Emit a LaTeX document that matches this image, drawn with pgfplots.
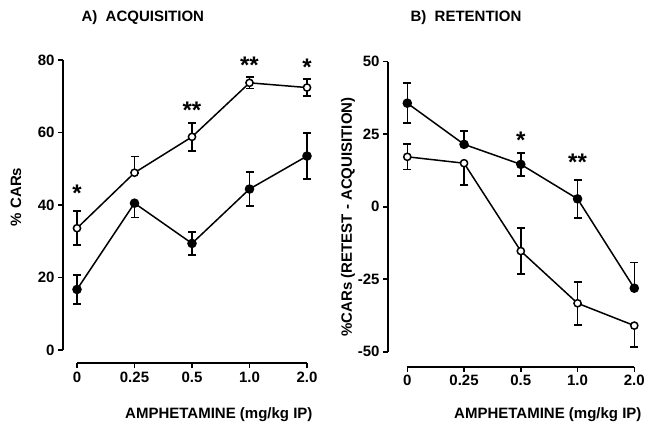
\documentclass[border=0pt]{standalone}
\usepackage{pgfplots}
\pgfplotsset{compat=1.18}
\usepackage{fontspec}
\setmainfont{Liberation Sans}

\pgfplotsset{
  panel/.style={
    scale only axis,
    axis lines=left,
    axis line style={-, line width=1.6pt},
    clip=false,
    tick align=outside,
    major tick length=5pt,
    tick style={line width=1.6pt, black},
    xtick={0,1,2,3,4},
    xticklabels={0,0.25,0.5,1.0,2.0},
    xmax=4,
    ticklabel style={font=\fontsize{15}{17}\selectfont\bfseries},
    label style={font=\fontsize{15}{18}\selectfont\bfseries},
    title style={font=\fontsize{15}{18}\selectfont\bfseries, anchor=west},
    /pgf/number format/assume math mode=true,
    xlabel={AMPHETAMINE (mg/kg IP)},
    xlabel style={anchor=east},
    ylabel style={anchor=center},
  },
  open/.style={black, line width=1.5pt, mark=*, mark size=3.6pt,
    mark options={fill=white, line width=1.5pt},
    error bars/.cd, y dir=both, y explicit,
    error bar style={line width=1.6pt},
    error mark options={rotate=90, mark size=4pt, line width=1.6pt}},
  filled/.style={black, line width=1.5pt, mark=*, mark size=4pt,
    error bars/.cd, y dir=both, y explicit,
    error bar style={line width=1.6pt},
    error mark options={rotate=90, mark size=4pt, line width=1.6pt}},
  stars/.style={draw=none, mark=none, nodes near coords,
    point meta=explicit symbolic,
    every node near coord/.append style={anchor=center, inner sep=0pt,
      yshift=-5pt, font=\fontsize{24}{24}\selectfont\bfseries}},
}

\begin{document}
\begin{tikzpicture}[x=1pt,y=1pt]
\useasboundingbox (0,0) rectangle (650,426);

% A) acquisition
\begin{axis}[panel,
  at={(63pt,63pt)}, anchor=south west,
  width=244pt, height=303pt,
  xmin=-0.2435, ymin=-3.586, ymax=80,
  ytick={0,20,40,60,80},
  x axis line style={shorten <=14pt},
  y axis line style={shorten <=13pt},
  title={A)\ \ ACQUISITION},
  title style={at={(axis description cs:0,1)}, xshift=15pt, yshift=36pt},
  xlabel style={at={(axis description cs:1,0)}, xshift=9pt, yshift=-52pt},
  ylabel={\% CARs},
  ylabel style={at={(axis description cs:0,0.548)}, yshift=47pt},
]
\addplot[open] coordinates {
  (0,33.6) +- (0,4.7)
  (1,48.9) += (0,4.5) -= (0,0)
  (2,58.8) +- (0,3.9)
  (3,73.7) +- (0,1.6)
  (4,72.4) +- (0,2.4)
};
\addplot[filled] coordinates {
  (0,16.7) +- (0,4.0)
  (1,40.5) += (0,0) -= (0,4.0)
  (2,29.4) +- (0,3.2)
  (3,44.4) +- (0,4.7)
  (4,53.5) +- (0,6.4)
};
\addplot[stars] coordinates {
  (0,44.6) [*]
  (2,67.6) [**]
  (3,79.8) [**]
  (4,79.4) [*]
};
\end{axis}

% B) retention
\begin{axis}[panel,
  at={(388pt,59.3pt)}, anchor=south west,
  width=246.3pt, height=305pt,
  xmin=-0.34, ymin=-55.17, ymax=50,
  ytick={-50,-25,0,25,50},
  x axis line style={shorten <=19.3pt},
  y axis line style={shorten <=15pt},
  title={B)\ \ RETENTION},
  title style={at={(axis description cs:0,1)}, xshift=19pt, yshift=37.7pt},
  xlabel style={at={(axis description cs:1,0)}, xshift=10.7pt, yshift=-48.3pt},
  ylabel={\%CARs (RETEST - ACQUISITION)},
  ylabel style={at={(axis description cs:0,0.491)}, yshift=40pt},
]
\addplot[filled] coordinates {
  (0,35.7) +- (0,6.9)
  (1,21.5) += (0,4.7) -= (0,0)
  (2,14.6) +- (0,4.0)
  (3,2.7) +- (0,6.6)
  (4,-28.1) += (0,8.8) -= (0,0)
};
\addplot[open] coordinates {
  (0,17.2) +- (0,4.4)
  (1,15.0) += (0,0) -= (0,7.5)
  (2,-15.3) +- (0,7.9)
  (3,-33.3) +- (0,7.4)
  (4,-41.0) += (0,0) -= (0,7.3)
};
\addplot[stars] coordinates {
  (2,24.7) [*]
  (3,17.0) [**]
};
\end{axis}
\end{tikzpicture}
\end{document}
